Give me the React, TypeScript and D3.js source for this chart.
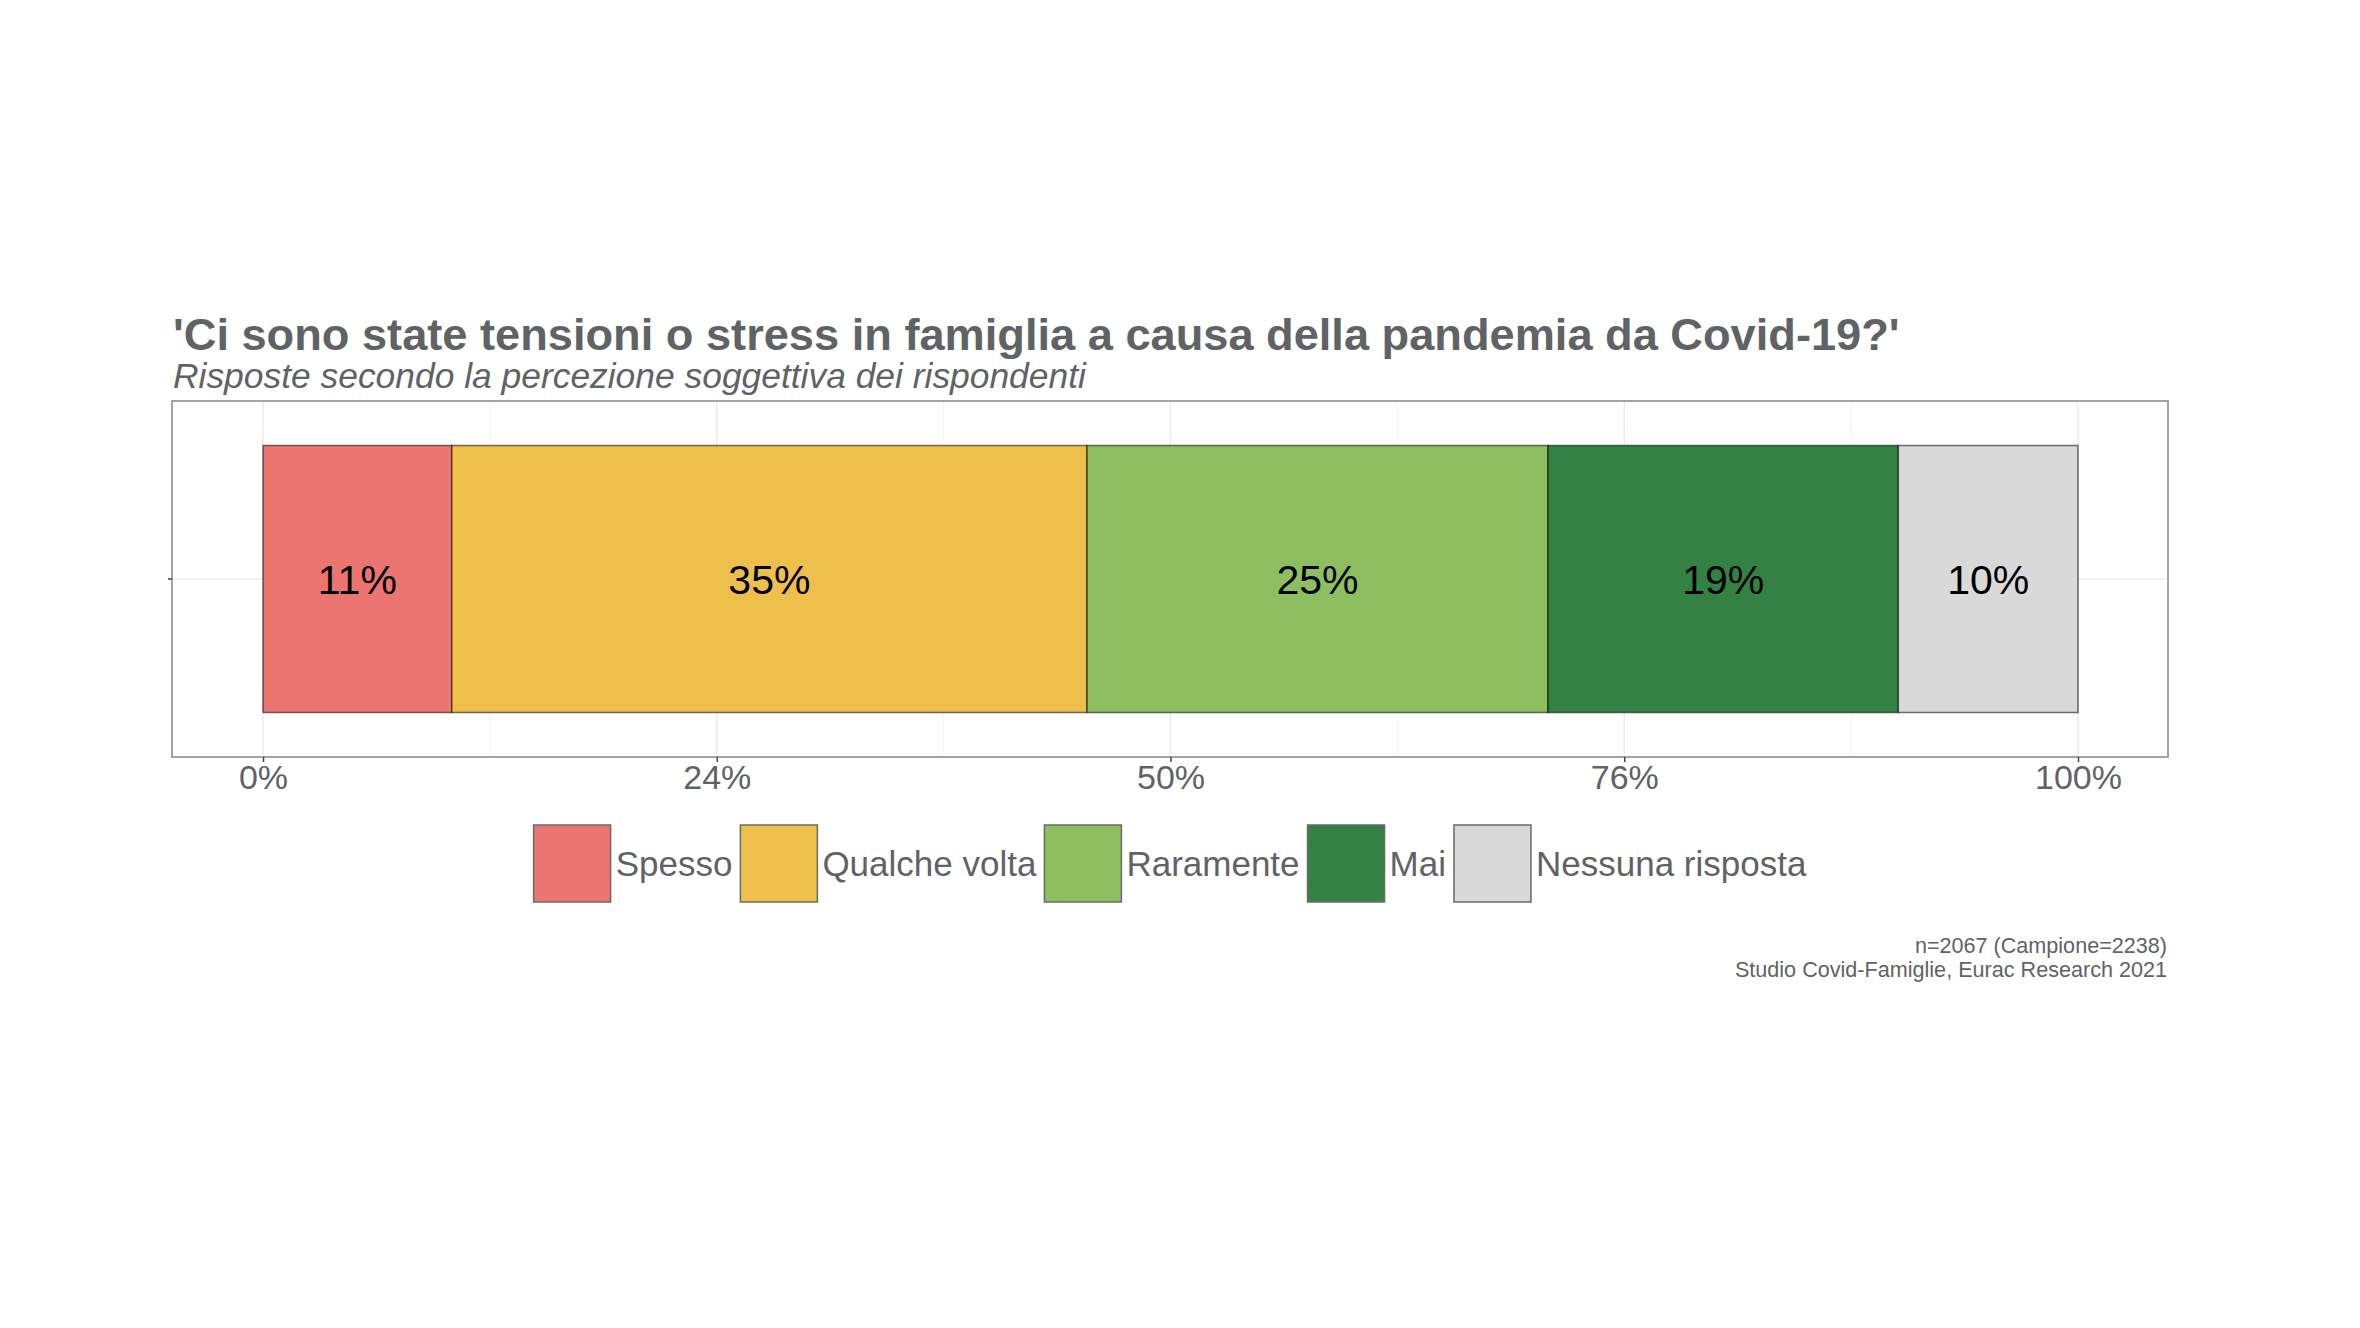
import { useEffect, useRef } from "react";
import * as d3 from "d3";

const categories = ["Spesso", "Qualche volta", "Raramente", "Mai", "Nessuna risposta"];
const shares = [10.4, 35.0, 25.4, 19.3, 9.9];
const barLabels = ["11%", "35%", "25%", "19%", "10%"];
const colors = ["#EC7571", "#EEBF4A", "#8DBF60", "#338244", "#D8D9D8"];
const tickValues = [0, 25, 50, 75, 100];
const tickLabels = ["0%", "24%", "50%", "76%", "100%"];
const minorTicks = [12.5, 37.5, 62.5, 87.5];

const title = "'Ci sono state tensioni o stress in famiglia a causa della pandemia da Covid-19?'";
const subtitle = "Risposte secondo la percezione soggettiva dei rispondenti";
const captionLines = ["n=2067 (Campione=2238)", "Studio Covid-Famiglie, Eurac Research 2021"];

export default function App() {
  const svgRef = useRef(null);

  useEffect(() => {
    const svg = d3.select(svgRef.current);
    svg.selectAll("*").remove();

    const width = 2360;
    const height = 1328;
    const font = "'Liberation Sans', Arial, sans-serif";
    const textGray = "#5f6366";

    const panel = { left: 172, right: 2168, top: 401, bottom: 757 };

    svg.attr("width", width).attr("height", height);
    svg.append("rect").attr("width", width).attr("height", height).attr("fill", "white");

    const x = d3.scaleLinear().domain([0, 100]).range([263, 2078]);
    const y = d3
      .scaleBand()
      .domain(["q"])
      .range([panel.top, panel.bottom])
      .paddingOuter(0.1667);

    // grid
    const grid = svg.append("g");
    grid
      .selectAll("line.minor")
      .data(minorTicks)
      .enter()
      .append("line")
      .attr("x1", (d) => x(d))
      .attr("x2", (d) => x(d))
      .attr("y1", panel.top)
      .attr("y2", panel.bottom)
      .attr("stroke", "#f2f2f2")
      .attr("stroke-width", 1);
    grid
      .selectAll("line.major")
      .data(tickValues)
      .enter()
      .append("line")
      .attr("x1", (d) => x(d))
      .attr("x2", (d) => x(d))
      .attr("y1", panel.top)
      .attr("y2", panel.bottom)
      .attr("stroke", "#ebebeb")
      .attr("stroke-width", 1.5);
    const yMid = y("q") + y.bandwidth() / 2;
    grid
      .append("line")
      .attr("x1", panel.left)
      .attr("x2", panel.right)
      .attr("y1", yMid)
      .attr("y2", yMid)
      .attr("stroke", "#ebebeb")
      .attr("stroke-width", 1.5);

    // stacked bar
    const ends = d3.cumsum(shares);
    const segs = shares.map((v, i) => ({
      start: ends[i] - v,
      end: ends[i],
      color: colors[i],
      label: barLabels[i],
    }));

    svg
      .append("g")
      .selectAll("rect")
      .data(segs)
      .enter()
      .append("rect")
      .attr("x", (d) => x(d.start))
      .attr("width", (d) => x(d.end) - x(d.start))
      .attr("y", y("q"))
      .attr("height", y.bandwidth())
      .attr("fill", (d) => d.color)
      .attr("stroke", "rgba(0,0,0,0.55)")
      .attr("stroke-width", 1.5);

    svg
      .append("g")
      .selectAll("text")
      .data(segs)
      .enter()
      .append("text")
      .attr("x", (d) => (x(d.start) + x(d.end)) / 2)
      .attr("y", yMid)
      .attr("dy", "0.36em")
      .attr("text-anchor", "middle")
      .attr("font-family", font)
      .attr("font-size", 41)
      .attr("fill", "black")
      .text((d) => d.label);

    // panel border
    svg
      .append("rect")
      .attr("x", panel.left)
      .attr("y", panel.top)
      .attr("width", panel.right - panel.left)
      .attr("height", panel.bottom - panel.top)
      .attr("fill", "none")
      .attr("stroke", "#a3a3a3")
      .attr("stroke-width", 2);

    // x axis
    const xAxis = d3
      .axisBottom(x)
      .tickValues(tickValues)
      .tickSize(5)
      .tickPadding(3)
      .tickFormat((d, i) => tickLabels[i]);

    svg
      .append("g")
      .attr("transform", `translate(0, ${panel.bottom})`)
      .call(xAxis)
      .call((g) => g.select(".domain").remove())
      .call((g) => g.selectAll("line").attr("stroke", "#444").attr("stroke-width", 1.5))
      .call((g) =>
        g
          .selectAll("text")
          .attr("fill", textGray)
          .attr("font-size", 34)
          .attr("font-family", font)
      );

    // y tick
    svg
      .append("line")
      .attr("x1", panel.left - 4)
      .attr("x2", panel.left)
      .attr("y1", yMid)
      .attr("y2", yMid)
      .attr("stroke", "#444")
      .attr("stroke-width", 1.5);

    // title
    svg
      .append("text")
      .attr("x", 173)
      .attr("y", 350)
      .attr("font-family", font)
      .attr("font-weight", "bold")
      .attr("font-size", 45.2)
      .attr("fill", textGray)
      .text(title);

    svg
      .append("text")
      .attr("x", 173)
      .attr("y", 388)
      .attr("font-family", font)
      .attr("font-style", "italic")
      .attr("font-size", 35.4)
      .attr("fill", textGray)
      .text(subtitle);

    // legend
    const keySize = 77;
    const legendFont = 35;
    const legend = svg.append("g");
    const items = categories.map((c, i) => ({ name: c, color: colors[i] }));
    const itemG = legend
      .selectAll("g")
      .data(items)
      .enter()
      .append("g");
    itemG
      .append("rect")
      .attr("width", keySize)
      .attr("height", keySize)
      .attr("fill", (d) => d.color)
      .attr("stroke", "#6a6a6a")
      .attr("stroke-width", 1.5);
    itemG
      .append("text")
      .attr("x", keySize + 5)
      .attr("y", keySize / 2)
      .attr("dy", "0.36em")
      .attr("font-family", font)
      .attr("font-size", legendFont)
      .attr("fill", textGray)
      .text((d) => d.name);

    let offset = 0;
    const offsets = [];
    itemG.each(function () {
      const t = d3.select(this).select("text").node();
      offsets.push(offset);
      offset += keySize + 5 + t.getComputedTextLength() + 8;
    });
    const total = offset - 8;
    const legendLeft = (panel.left + panel.right) / 2 - total / 2;
    itemG.attr("transform", (_, i) => `translate(${legendLeft + offsets[i]}, 825)`);

    // caption
    svg
      .append("g")
      .selectAll("text")
      .data(captionLines)
      .enter()
      .append("text")
      .attr("x", panel.right - 1)
      .attr("y", (_, i) => 953 + i * 24)
      .attr("text-anchor", "end")
      .attr("font-family", font)
      .attr("font-size", 21.6)
      .attr("fill", textGray)
      .text((d) => d);
  }, []);

  return (
    <svg
      ref={svgRef}
      style={{ position: "absolute", left: 0, top: 0, display: "block" }}
    ></svg>
  );
}
